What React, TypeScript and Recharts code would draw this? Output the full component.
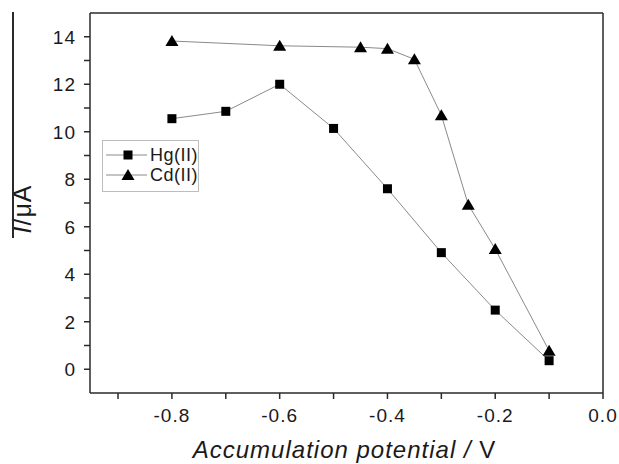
import React from 'react';
import { LineChart, Line, XAxis, YAxis, ReferenceLine } from 'recharts';

// accumulation potential (V) and peak current (uA)
const hgPotential = [-0.8, -0.7, -0.6, -0.5, -0.4, -0.3, -0.2, -0.1];
const hgCurrent = [10.55, 10.86, 12.0, 10.14, 7.6, 4.91, 2.49, 0.36];

const cdPotential = [-0.8, -0.6, -0.45, -0.4, -0.35, -0.3, -0.25, -0.2, -0.1];
const cdCurrent = [13.82, 13.62, 13.56, 13.5, 13.05, 10.7, 6.93, 5.06, 0.78];

const xTicks = [-0.9, -0.8, -0.7, -0.6, -0.5, -0.4, -0.3, -0.2, -0.1, 0];
const yTicks = [0, 1, 2, 3, 4, 5, 6, 7, 8, 9, 10, 11, 12, 13, 14];

const hgData = hgPotential.map((x, i) => ({ x, y: hgCurrent[i] }));
const cdData = cdPotential.map((x, i) => ({ x, y: cdCurrent[i] }));

const FONT = '"Liberation Sans", Arial, sans-serif';
const AXIS = '#2a2a2a';
const LINE = '#8a8a8a';
const TEXT = '#1a1a1a';

const fmtX = (v: number) => (Math.abs(Math.round(v * 10)) % 2 === 0 ? v.toFixed(1).replace('-0.0', '0.0') : '');
const fmtY = (v: number) => (v % 2 === 0 ? String(v) : '');

const XTick = (props: any) => {
  const { x, y, payload } = props;
  const s = fmtX(payload.value);
  if (!s) return null;
  return (
    <text x={x} y={y} dy="0.71em" textAnchor="middle" fontFamily={FONT} fontSize={19} fill={TEXT} letterSpacing={1}>
      {s}
    </text>
  );
};

const YTick = (props: any) => {
  const { x, y, payload } = props;
  const s = fmtY(payload.value);
  if (!s) return null;
  return (
    <text x={x} y={y} dy="0.36em" textAnchor="end" fontFamily={FONT} fontSize={19} fill={TEXT} letterSpacing={1}>
      {s}
    </text>
  );
};

const SquareDot = (props: any) => {
  const { cx, cy } = props;
  if (cx == null || cy == null) return null;
  return <rect x={cx - 4.5} y={cy - 4.5} width={9} height={9} fill="#000" />;
};

const TriangleDot = (props: any) => {
  const { cx, cy } = props;
  if (cx == null || cy == null) return null;
  return <path d={`M${cx},${cy - 6} L${cx + 6.5},${cy + 5} L${cx - 6.5},${cy + 5} Z`} fill="#000" />;
};

const XTitle = (props: any) => {
  const { viewBox } = props;
  const cx = viewBox.x + viewBox.width / 2 - 2;
  return (
    <text x={cx} y={viewBox.y + 65} textAnchor="middle" fontFamily={FONT} fontSize={24} fill={TEXT} letterSpacing={1}>
      <tspan fontStyle="italic">Accumulation potential / </tspan>
      <tspan>V</tspan>
    </text>
  );
};

const YTitle = (props: any) => {
  const { viewBox } = props;
  const x = viewBox.x + 11;
  const y = 209;
  return (
    <text x={x} y={y} transform={`rotate(-90 ${x} ${y})`} textAnchor="middle" fontFamily={FONT} fontSize={25} fill={TEXT} letterSpacing={1}>
      <tspan fontStyle="italic">I</tspan>
      <tspan>/μA</tspan>
    </text>
  );
};

const LegendRow = ({ label, shape }: { label: string; shape: 'square' | 'triangle' }) => (
  <div style={{ display: 'flex', alignItems: 'center', height: 20 }}>
    <svg width={46} height={20}>
      <line x1={3} y1={10} x2={44} y2={10} stroke={LINE} strokeWidth={1} />
      {shape === 'square' ? <SquareDot cx={25} cy={10} /> : <TriangleDot cx={25} cy={10} />}
    </svg>
    <span style={{ fontFamily: FONT, fontSize: 18, color: TEXT, marginLeft: 3, letterSpacing: 0.5 }}>{label}</span>
  </div>
);

export default function App() {
  return (
    <div style={{ position: 'absolute', left: 0, top: 0, width: 619, height: 464, background: '#fff' }}>
      <LineChart width={619} height={464} margin={{ top: 13, right: 16, left: 20, bottom: 0 }}>
        <XAxis
          type="number"
          dataKey="x"
          domain={[-0.952, 0]}
          ticks={xTicks}
          allowDataOverflow
          height={71}
          tick={<XTick />}
          tickSize={6}
          tickMargin={10}
          stroke={AXIS}
          strokeWidth={1.5}
          label={<XTitle />}
        />
        <YAxis
          type="number"
          dataKey="y"
          domain={[-1, 15]}
          ticks={yTicks}
          allowDataOverflow
          width={70}
          tick={<YTick />}
          tickSize={6}
          tickMargin={8}
          stroke={AXIS}
          strokeWidth={1.5}
          label={<YTitle />}
        />
        <ReferenceLine y={15} stroke={AXIS} strokeWidth={1.5} />
        <ReferenceLine x={0} stroke={AXIS} strokeWidth={1.5} />
        <Line data={hgData} dataKey="y" stroke={LINE} strokeWidth={1} dot={<SquareDot />} isAnimationActive={false} />
        <Line data={cdData} dataKey="y" stroke={LINE} strokeWidth={1} dot={<TriangleDot />} isAnimationActive={false} />
      </LineChart>
      <div style={{ position: 'absolute', left: 12, top: 12, width: 1.5, height: 226, background: AXIS }} />
      <div
        style={{
          position: 'absolute',
          left: 102,
          top: 140,
          width: 97,
          height: 52,
          border: '1px solid #bdbdbd',
          boxSizing: 'border-box',
          padding: '4px 0 0 0',
          background: '#fff',
        }}
      >
        <LegendRow label="Hg(II)" shape="square" />
        <LegendRow label="Cd(II)" shape="triangle" />
      </div>
    </div>
  );
}
